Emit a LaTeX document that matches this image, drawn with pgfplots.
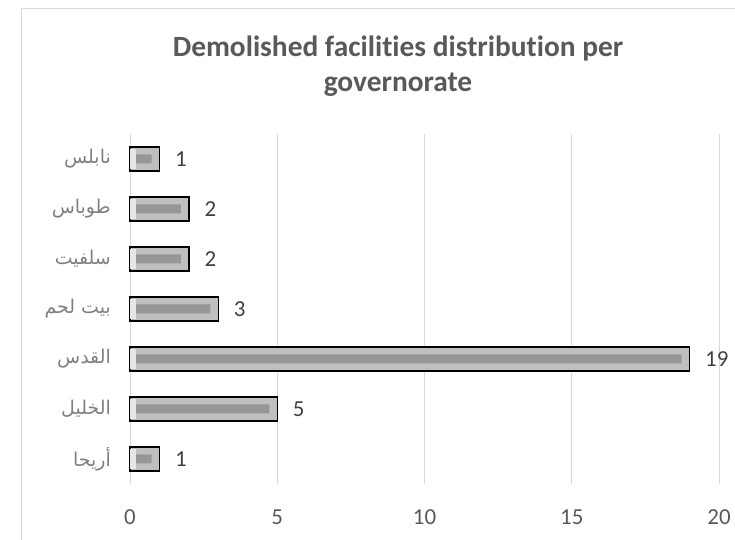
\documentclass[border=0pt]{standalone}
\usepackage{pgfplots}
\pgfplotsset{compat=1.18}
\usepackage{pgfplotstable}
\usepackage{fontspec}
\setmainfont[Ligatures=NoCommon]{Carlito}
\newfontfamily\arabicfont[Script=Arabic]{DejaVu Sans}
\TeXXeTstate=1
\definecolor{titlegray}{HTML}{595959}
\definecolor{tickgray}{HTML}{595959}
\definecolor{labelgray}{HTML}{808080}
\definecolor{valgray}{HTML}{404040}
\definecolor{gridgray}{HTML}{D9D9D9}
\definecolor{framegray}{HTML}{D9D9D9}
\definecolor{barouter}{HTML}{BFBFBF}
\definecolor{barstripe}{HTML}{969696}
\definecolor{barcap}{HTML}{E6E6E6}

\pgfplotstableread{
y v
0 1
1 5
2 19
3 3
4 2
5 2
6 1
}\datatable

\begin{document}
\begin{tikzpicture}[x=1bp,y=1bp]
\useasboundingbox (0,0) rectangle (735,540);
\draw[color=framegray, line width=1bp] (21,0) -- (21,531) -- (735,531);
\node[anchor=base, font=\fontsize{29.5}{34}\selectfont\bfseries, text=titlegray] at (398,483) {Demolished facilities distribution per};
\node[anchor=base, font=\fontsize{29.5}{34}\selectfont\bfseries, text=titlegray] at (398,448) {governorate};
\begin{axis}[
  at={(130bp,56bp)}, anchor=south west,
  scale only axis, width=589bp, height=350bp,
  xmin=0, xmax=20, ymin=-0.5, ymax=6.5,
  xtick={0,5,10,15,20}, ytick={0,1,2,3,4,5,6},
  yticklabels={
    {\beginR أريحا\endR},
    {\beginR الخليل\endR},
    {\beginR القدس\endR},
    {\beginR بيت لحم\endR},
    {\beginR سلفيت\endR},
    {\beginR طوباس\endR},
    {\beginR نابلس\endR}},
  axis line style={draw=none},
  major tick length=0pt,
  xmajorgrids, grid style={color=gridgray, line width=1bp},
  /pgf/number format/assume math mode=true,
  xticklabel style={font=\fontsize{23}{28}\selectfont, text=tickgray, anchor=base, yshift=-41bp},
  yticklabel style={font=\arabicfont\fontsize{19}{22}\selectfont, text=labelgray, anchor=east, inner sep=0pt, xshift=-19bp},
  xbar,
  clip=false,
]
\addplot[xbar, bar shift=0pt, bar width=24bp, fill=barouter, draw=black, line width=1.2bp,
  point meta=x, nodes near coords,
  every node near coord/.append style={anchor=west, inner sep=0pt, xshift=15bp,
     font=\fontsize{23}{28}\selectfont, text=valgray}]
  table[x=v, y=y] {\datatable};
\addplot[xbar, bar shift=0pt, bar width=9bp, fill=barstripe, draw=none]
  table[x expr=\thisrow{v}-0.27, y=y] {\datatable};
\addplot[xbar, bar shift=0pt, bar width=20bp, fill=barcap, draw=none]
  table[x expr=0.2, y=y] {\datatable};
\end{axis}
\end{tikzpicture}
\end{document}
